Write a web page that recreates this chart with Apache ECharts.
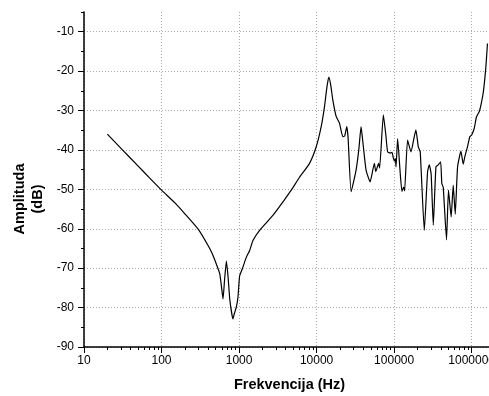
<!DOCTYPE html>
<html>
<head>
<meta charset="utf-8">
<script src="https://cdn.jsdelivr.net/npm/echarts@6/dist/echarts.min.js"></script>
<style>
  html, body { margin: 0; padding: 0; background: #fff; }
  #chart { width: 489px; height: 396px; }
</style>
</head>
<body>
<div id="chart"></div>
<script>
// frekvencija (Hz) i amplituda (dB), ocitano sa slike
const freq = [
  20, 30, 50, 70, 100, 150, 200, 300, 400, 450, 510, 563, 600, 621, 650, 686, 720, 760, 834, 870,
  922, 968, 1016, 1100, 1242, 1370, 1510, 1840, 2730, 3860, 4710, 6000, 8110, 9890, 11460, 12650,
  13600, 14370, 15200, 16180, 17870, 19720, 21740, 23000, 24490, 25500, 27870, 32300, 35000, 37470,
  40000, 43450, 48960, 55620, 58000, 63030, 65000, 72600, 78000, 82400, 89300, 94000, 97700, 100700,
  103600, 105800, 111000, 119000, 126000, 132600, 136500, 149000, 165000, 182000, 191000, 205000,
  217000, 245000, 270000, 284000, 300000, 320000, 346000, 370000, 398000, 412000, 430000, 474000,
  502000, 544000, 578000, 614000, 658000, 727000, 778000, 817000, 883000, 948000, 1000000, 1080000,
  1150000, 1250000, 1310000, 1410000, 1520000, 1600000
];
const amp = [
  -36, -39.6, -44.1, -47.1, -50.2, -53.5, -56.2, -60.2, -64.3, -66.3, -69, -71.4, -75.5, -77.8, -73, -68.2, -72, -78, -82.9, -81.5,
  -79.9, -77.3, -72, -70.2, -67.2, -65.5, -63, -60.4, -56.6, -52.6, -50.2, -47, -43.4, -39.2, -34.1, -29,
  -24, -21.5, -23.5, -27.3, -31.5, -33.2, -36.6, -36.5, -34.1, -37, -50.6, -45.1, -40, -34.1,
  -39, -45.1, -48.1, -43.4, -45.5, -43.4, -44.6, -31.1, -36, -40.5, -40.8, -40.6, -42.1, -42.8,
  -42.2, -44.3, -37.1, -45.1, -50.5, -49.4, -50.4, -37.5, -40.5, -36.6, -34.9, -39.2,
  -40.5, -60.4, -45.5, -43.8, -46, -59.1, -44.3, -43.8, -43, -48.5, -49.5, -62.8,
  -50.2, -57, -48.9, -56.3, -44.3, -40.3, -43.6, -41.7, -39.2, -36.6, -36.2, -34.5,
  -31.7, -30.3, -28.8, -25.5, -19.3, -13
];

const xMajor = [10, 100, 1000, 10000, 100000, 1000000];
const xMinor = [];
for (const d of xMajor) {
  for (let k = 2; k <= 9; k++) if (d * k <= 2000000) xMinor.push(d * k);
}
const yMajor = [-90, -80, -70, -60, -50, -40, -30, -20, -10];
const yMinor = [-85, -75, -65, -55, -45, -35, -25, -15, -5];

const chart = echarts.init(document.getElementById('chart'));

const font = 'Liberation Sans, Arial, sans-serif';
const gridLine = { show: true, lineStyle: { color: '#aaa', type: [1, 2], width: 1 } };
const rect = { left: 84, top: 12, bottom: 49, width: 411, containLabel: false, outerBoundsMode: 'none' };
const tickLine = { color: '#000', width: 1 };

chart.setOption({
  animation: false,
  backgroundColor: '#fff',
  grid: [rect, rect],
  xAxis: [
    {
      type: 'log', logBase: 10, min: 10, max: 2000000, gridIndex: 0,
      name: 'Frekvencija (Hz)', nameLocation: 'middle', nameGap: 30,
      nameTextStyle: { fontFamily: font, fontWeight: 'bold', fontSize: 14.5, color: '#000' },
      axisLine: { lineStyle: { color: '#000', width: 1.5 } },
      axisTick: { customValues: xMajor, length: 6, lineStyle: tickLine },
      axisLabel: {
        customValues: xMajor, margin: 8, color: '#000', fontFamily: font, fontSize: 12,
        formatter: v => String(v)
      },
      splitLine: gridLine
    },
    {
      // mali podeoci
      type: 'log', logBase: 10, min: 10, max: 2000000, gridIndex: 1,
      axisLine: { show: true, lineStyle: { color: 'rgba(0,0,0,0)' } },
      axisTick: { show: true, customValues: xMinor, length: 3, lineStyle: tickLine },
      axisLabel: { show: false },
      splitLine: { show: false }
    }
  ],
  yAxis: [
    {
      type: 'value', min: -90, max: -5, gridIndex: 0,
      axisLine: { show: true, lineStyle: { color: '#000', width: 1.5 } },
      axisTick: { show: true, customValues: yMajor, length: 6, lineStyle: tickLine },
      axisLabel: { customValues: yMajor, margin: 10, color: '#000', fontFamily: font, fontSize: 12 },
      splitLine: gridLine
    },
    {
      type: 'value', min: -90, max: -5, gridIndex: 1,
      axisLine: { show: true, lineStyle: { color: 'rgba(0,0,0,0)' } },
      axisTick: { show: true, customValues: yMinor, length: 3, lineStyle: tickLine },
      axisLabel: { show: false },
      splitLine: { show: false }
    }
  ],
  graphic: [
    {
      type: 'text', x: 29, y: 199, rotation: Math.PI / 2,
      style: {
        text: 'Amplituda\n(dB)', textAlign: 'center', textVerticalAlign: 'middle',
        fontFamily: font, fontWeight: 'bold', fontSize: 14.5, lineHeight: 18, fill: '#000'
      }
    }
  ],
  series: [
    {
      type: 'line',
      xAxisIndex: 0, yAxisIndex: 0,
      data: freq.map((f, i) => [f, amp[i]]),
      showSymbol: false,
      smooth: 0.15,
      lineStyle: { color: '#000', width: 1.2 }
    }
  ]
});
</script>
</body>
</html>
